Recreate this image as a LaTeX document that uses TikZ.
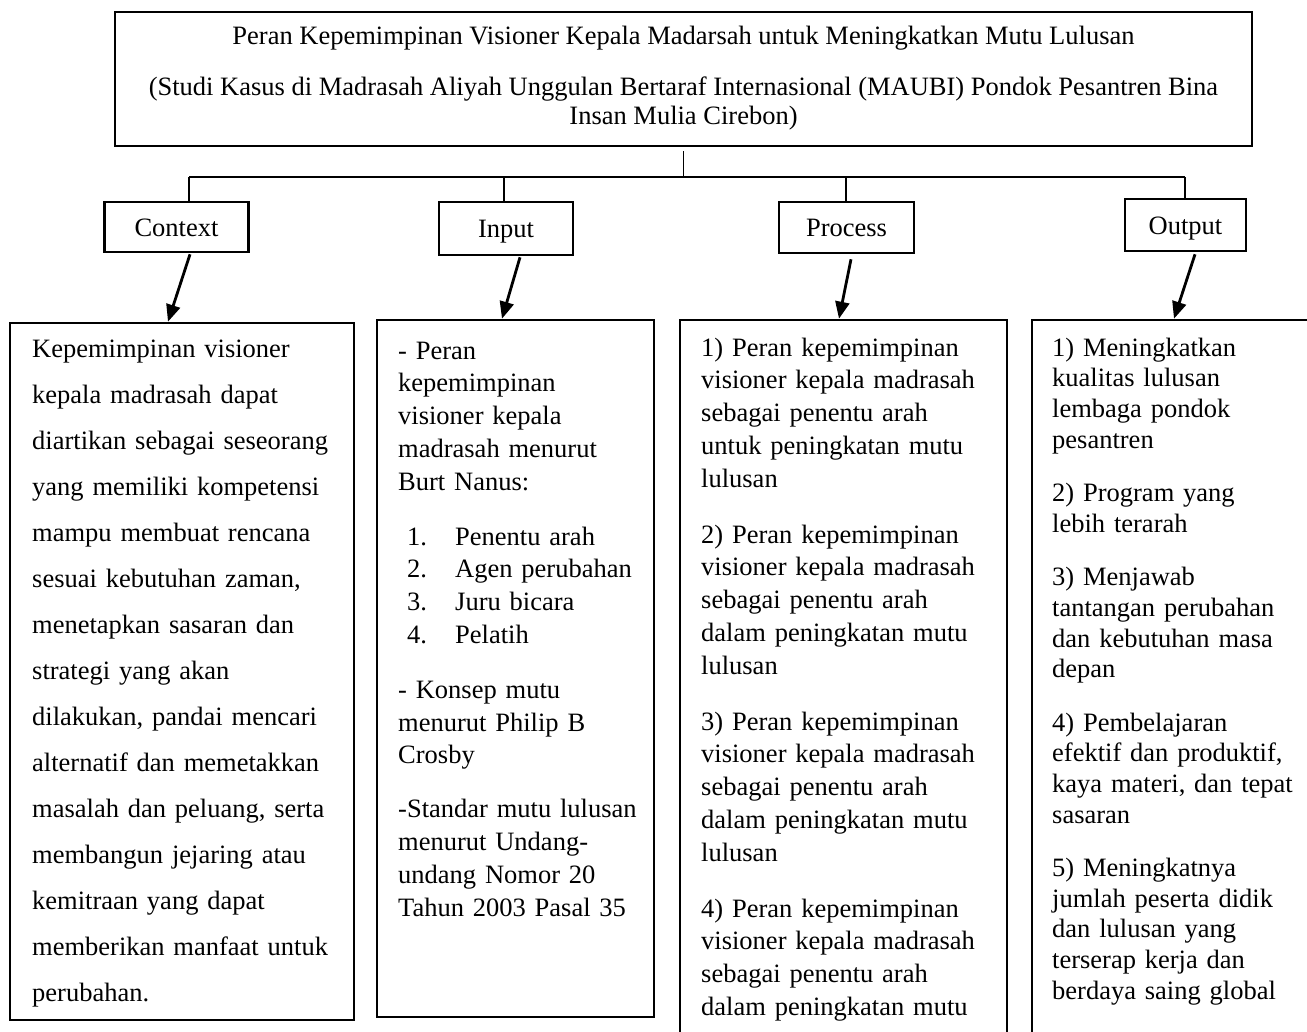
\documentclass[tikz,border=0pt]{standalone}
\usepackage{fontspec}
\setmainfont{Liberation Serif}
\usetikzlibrary{arrows.meta}

\begin{document}
\begin{tikzpicture}[x=1pt,y=-1pt,
  kotak/.style={draw,line width=2.6pt,inner sep=0pt},
  tahap/.style={kotak,text height=22pt,text depth=3pt,font=\fontsize{26.5}{30}\selectfont},
  isi/.style={anchor=north west,inner sep=0pt,align=left},
  garis/.style={line width=1.3pt},
  panah/.style={line width=2.8pt,-{Triangle[length=17pt,width=14pt]}}]
  \useasboundingbox (0,0) rectangle (1307,1032);
  \clip (0,0) rectangle (1307,1032);
  \fill[white] (0,0) rectangle (1307,1032);

  % kotak judul
  \node[kotak,minimum width=1137pt,minimum height=134pt,align=center,
    font=\fontsize{26.5}{29}\selectfont] (judul) at (683.5,79)
    {\strut Peran Kepemimpinan Visioner Kepala Madarsah untuk Meningkatkan Mutu Lulusan\\[22pt]
     (Studi Kasus di Madrasah Aliyah Unggulan Bertaraf Internasional (MAUBI) Pondok Pesantren Bina\\
     Insan Mulia Cirebon)\strut};

  % empat tahap CIPP
  \node[tahap,minimum width=144pt,minimum height=50pt] (ctx) at (176.5,227) {Context};
  \node[tahap,minimum width=134pt,minimum height=53pt] (inp) at (506,228.5) {Input};
  \node[tahap,minimum width=135pt,minimum height=51pt] (prc) at (846.5,227.5) {Process};
  \node[tahap,minimum width=121pt,minimum height=52pt] (out) at (1185.5,225) {Output};

  % garis cabang
  \coordinate (simpul) at (683.5,177);
  \coordinate (c1) at (189,177);
  \coordinate (c2) at (504,177);
  \coordinate (c3) at (846,177);
  \coordinate (c4) at (1185,177);
  \draw[garis] ([yshift=-4pt]judul.south) -- (simpul);
  \draw[garis] (c1) -- (c4);
  \draw[garis] (c1) -- (c1 |- ctx.north);
  \draw[garis] (c2) -- (c2 |- inp.north);
  \draw[garis] (c3) -- (c3 |- prc.north);
  \draw[garis] (c4) -- (c4 |- out.north);

  % kotak isi
  \node[kotak,minimum width=344pt,minimum height=697pt] (isiCtx) at (182,671.5) {};
  \node[kotak,minimum width=277pt,minimum height=697pt] (isiInp) at (515.5,668.5) {};
  \node[kotak,minimum width=327pt,minimum height=730pt] (isiPrc) at (843.5,685) {};
  \node[kotak,minimum width=320pt,minimum height=730pt] (isiOut) at (1192,685) {};

  % panah
  \draw[panah] ([xshift=13.5pt,yshift=-1pt]ctx.south) -- ([xshift=-14pt]isiCtx.north);
  \draw[panah] ([xshift=14pt,yshift=-1pt]inp.south) -- ([xshift=-13.5pt]isiInp.north);
  \draw[panah] ([xshift=4.5pt,yshift=-5pt]prc.south) -- ([xshift=-4.5pt]isiPrc.north);
  \draw[panah] ([xshift=9.5pt,yshift=-2pt]out.south) -- ([xshift=-18pt]isiOut.north);

  % teks isi
  \node[isi,text width=320pt,font=\fontsize{26.5}{46}\selectfont] (tCtx) at (32,324.8)
    {\strut Kepemimpinan visioner\\ kepala madrasah dapat\\ diartikan sebagai seseorang\\
     yang memiliki kompetensi\\ mampu membuat rencana\\ sesuai kebutuhan zaman,\\
     menetapkan sasaran dan\\ strategi yang akan\\ dilakukan, pandai mencari\\
     alternatif dan memetakkan\\ masalah dan peluang, serta\\ membangun jejaring atau\\
     kemitraan yang dapat\\ memberikan manfaat untuk\\ perubahan.};
  \node[isi,text width=250pt,font=\fontsize{26.5}{32.8}\selectfont] (tInp) at (398,336)
    {\strut - Peran\\ kepemimpinan\\ visioner kepala\\ madrasah menurut\\ Burt Nanus:\\[22pt]
     \makebox[57pt][l]{\hspace*{9pt}1.}Penentu arah\\
     \makebox[57pt][l]{\hspace*{9pt}2.}Agen perubahan\\
     \makebox[57pt][l]{\hspace*{9pt}3.}Juru bicara\\
     \makebox[57pt][l]{\hspace*{9pt}4.}Pelatih\\[22pt]
     - Konsep mutu\\ menurut Philip B\\ Crosby\\[21pt]
     -Standar mutu lulusan\\ menurut Undang-\\ undang Nomor 20\\ Tahun 2003 Pasal 35};
  \node[isi,text width=300pt,font=\fontsize{26.5}{32.8}\selectfont] (tPrc) at (701,333)
    {\strut 1) Peran kepemimpinan\\ visioner kepala madrasah\\ sebagai penentu arah\\ untuk peningkatan mutu\\ lulusan\\[23pt]
     2) Peran kepemimpinan\\ visioner kepala madrasah\\ sebagai penentu arah\\ dalam peningkatan mutu\\ lulusan\\[23pt]
     3) Peran kepemimpinan\\ visioner kepala madrasah\\ sebagai penentu arah\\ dalam peningkatan mutu\\ lulusan\\[23pt]
     4) Peran kepemimpinan\\ visioner kepala madrasah\\ sebagai penentu arah\\ dalam peningkatan mutu};
  \node[isi,text width=260pt,font=\fontsize{26.5}{30.6}\selectfont] (tOut) at (1052,334.6)
    {\strut 1) Meningkatkan\\ kualitas lulusan\\ lembaga pondok\\ pesantren\\[23pt]
     2) Program yang\\ lebih terarah\\[23pt]
     3) Menjawab\\ tantangan perubahan\\ dan kebutuhan masa\\ depan\\[23pt]
     4) Pembelajaran\\ efektif dan produktif,\\ kaya materi, dan tepat\\ sasaran\\[23pt]
     5) Meningkatnya\\ jumlah peserta didik\\ dan lulusan yang\\ terserap kerja dan\\ berdaya saing global};
\end{tikzpicture}
\end{document}
